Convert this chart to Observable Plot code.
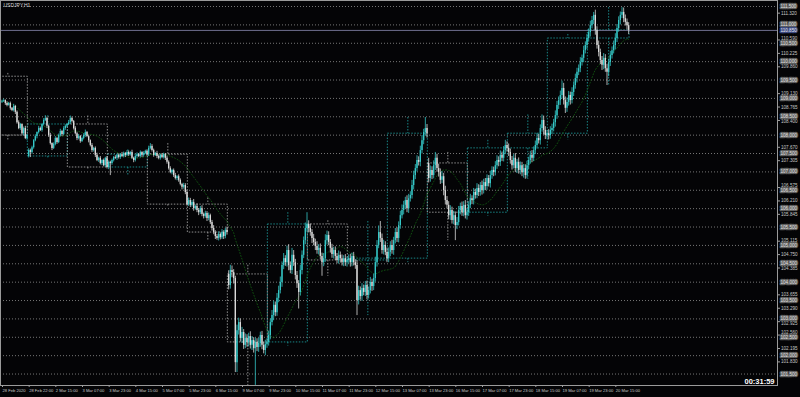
<!DOCTYPE html>
<html>
<head>
<meta charset="utf-8">
<script src="https://cdn.jsdelivr.net/npm/d3@7"></script>
<script src="https://cdn.jsdelivr.net/npm/@observablehq/plot@0.6"></script>
<style>
  html, body { margin: 0; padding: 0; background: #040406; }
  #chart { width: 800px; height: 397px; }
</style>
</head>
<body>
<div id="chart"></div>
<script>
// ---- DATA (USDJPY, H1) ----
const title = "USDJPY,H1";
const clock = "00:31:59";

// hourly closes, one row per trading day (first row: visible part of 28 Feb)
const closes = [
  108.92,108.94,108.86,108.81,108.86,108.73,108.67,108.78,108.62,108.34,108.18,108.29,108.04,108.18,107.91,107.99,107.58,107.53,
  107.66,107.85,107.96,108.07,108.18,108.13,108.29,108.40,108.45,108.24,107.99,107.77,107.64,107.75,107.91,107.80,107.99,108.10,108.02,108.18,108.24,108.29,108.34,108.45,108.37,
  108.18,108.04,107.91,107.96,107.83,107.91,107.99,108.07,107.96,107.85,107.72,107.58,107.64,107.45,107.31,107.37,107.23,107.31,107.17,107.37,107.12,107.26,107.23,
  107.31,107.39,107.37,107.45,107.39,107.47,107.42,107.50,107.45,107.53,107.47,107.53,107.37,107.31,107.42,107.47,107.42,107.53,107.45,107.50,107.56,107.47,107.64,107.69,
  107.58,107.45,107.50,107.42,107.37,107.45,107.39,107.47,107.37,107.26,107.09,106.98,107.04,106.90,106.82,106.87,106.77,106.66,106.58,106.63,106.44,106.11,106.22,
  106.09,106.17,106.00,106.06,105.95,105.89,106.00,105.84,105.79,105.87,105.73,105.81,105.62,105.46,105.35,105.24,105.19,105.30,105.21,105.35,105.24,105.41,105.35,
  103.91,104.32,104.26,104.10,101.81,102.68,102.90,102.47,102.63,102.28,102.47,102.36,102.52,102.28,102.41,102.19,102.36,102.22,102.33,102.55,102.28,102.14,102.30,102.36,
  102.55,102.90,103.09,103.37,103.17,103.56,103.77,103.99,104.45,104.64,104.53,104.86,104.45,104.32,104.73,104.53,104.18,103.96,103.72,104.32,104.73,105.13,105.46,105.57,
  105.46,105.35,105.19,105.08,104.97,104.86,104.92,104.70,104.53,104.64,105.13,105.27,105.08,104.92,104.75,104.86,104.70,104.59,104.73,104.64,104.53,104.64,104.53,104.59,
  104.64,104.53,104.70,104.53,104.45,103.50,103.77,103.61,103.83,103.72,103.91,103.64,103.77,103.99,103.88,104.10,104.53,105.00,105.35,105.19,104.86,105.00,104.81,104.64,
  104.81,105.00,104.86,105.13,105.35,105.19,105.54,105.81,105.95,106.09,106.22,106.00,106.27,106.36,106.63,106.90,107.09,107.31,107.26,107.58,107.85,108.07,108.18,108.04,
  106.82,107.04,106.90,107.17,107.37,107.09,106.98,106.77,106.87,106.49,106.22,106.09,105.81,105.95,105.68,105.81,105.54,105.62,105.95,106.06,105.89,106.09,105.81,105.89,
  106.09,106.27,106.22,106.44,106.36,106.55,106.44,106.63,106.49,106.71,106.60,106.82,106.68,106.90,107.04,106.98,107.17,107.31,107.26,107.45,107.37,107.58,107.72,107.64,
  107.53,107.31,107.17,107.37,107.09,107.26,107.04,107.17,106.98,107.09,106.90,107.17,107.31,107.45,107.37,107.58,107.72,107.91,107.85,108.18,108.40,108.13,107.99,108.04,
  107.99,108.13,108.18,108.34,108.53,108.81,108.94,109.08,109.27,108.94,108.73,108.89,109.08,108.94,109.16,109.35,109.54,109.71,109.81,109.98,110.09,110.30,110.44,110.63,
  110.79,110.98,111.12,111.26,110.85,110.44,110.25,110.03,109.90,110.09,109.81,109.71,109.98,110.17,110.30,110.44,110.63,110.90,111.12,111.26,111.34,111.17,111.07,110.98,110.85
];
// upper shadows (hundredths of a yen)
const upperWick = [
  3,4,2,5,3,4,2,6,3,4,5,3,2,4,6,3,5,4,
  4,3,5,2,6,4,3,5,8,4,3,6,2,4,5,3,4,6,3,5,4,3,6,7,4,
  3,5,4,6,3,4,5,7,3,4,2,5,3,4,6,3,5,2,4,3,5,4,3,
  4,3,5,2,4,3,6,4,3,5,4,2,6,3,4,5,3,4,2,5,3,4,6,8,
  5,4,3,6,4,3,5,4,3,6,4,5,3,4,6,3,5,4,3,6,5,4,7,
  6,5,8,4,7,5,6,8,4,6,5,7,4,6,8,5,6,7,4,8,5,6,9,
  10,14,12,8,6,15,12,10,14,8,12,10,9,13,11,8,12,10,14,9,11,8,12,10,
  12,10,14,11,9,13,12,15,10,14,8,12,16,10,19,13,9,11,8,14,12,10,15,32,
  10,12,8,11,9,13,10,12,9,14,16,12,10,8,11,9,10,8,12,9,10,8,11,9,
  10,12,9,11,8,14,12,10,13,9,11,12,10,14,9,12,15,13,18,30,12,14,10,12,
  12,10,14,9,11,13,10,12,15,11,9,13,12,10,14,12,11,13,10,12,14,9,30,11,
  14,12,10,13,16,11,12,10,14,9,12,11,10,13,9,12,10,14,11,9,12,10,13,11,
  10,12,8,11,9,13,10,8,12,9,11,10,8,12,10,9,11,13,10,12,9,11,14,10,
  12,9,11,10,13,8,12,10,9,11,10,12,9,11,13,10,12,14,11,10,15,12,10,9,
  11,10,12,9,13,11,10,12,20,14,10,12,11,9,13,10,12,11,10,13,9,12,10,11,
  10,12,11,8,14,10,12,9,11,13,10,12,9,11,10,12,13,11,10,9,13,12,10,9,8
];
// lower shadows (hundredths of a yen)
const lowerWick = [
  4,3,5,4,2,5,3,4,6,4,3,5,4,6,3,5,4,14,
  5,4,3,6,4,3,5,4,3,6,5,4,6,3,4,5,3,4,6,3,5,4,3,5,4,
  4,3,6,4,5,3,4,5,3,6,4,5,4,6,3,5,4,6,3,5,4,6,33,
  5,4,3,6,4,5,3,4,6,3,5,4,3,6,4,5,3,4,6,5,3,4,5,4,
  4,5,3,6,4,5,3,4,6,5,4,3,6,5,4,6,5,4,7,5,6,4,5,
  6,5,7,4,6,8,5,6,7,5,8,6,5,7,6,8,5,7,6,5,8,6,7,
  12,10,14,15,27,27,12,10,14,11,9,13,12,10,14,12,100,11,13,10,12,9,14,10,
  10,12,9,14,11,10,12,9,13,11,10,12,14,9,11,10,12,13,45,10,12,9,11,10,
  12,10,14,9,11,10,12,9,37,11,10,12,9,13,10,12,11,9,10,12,9,11,10,12,
  10,12,11,9,10,41,12,10,13,9,11,12,10,9,13,11,10,12,9,11,10,12,9,11,
  11,12,10,13,9,11,12,10,9,12,10,11,13,9,10,12,11,9,10,12,9,11,10,12,
  12,10,11,9,13,10,12,11,9,14,12,10,11,13,10,12,41,11,9,12,10,11,9,12,
  10,9,11,12,10,9,11,10,12,9,11,10,9,12,10,11,9,10,12,11,9,10,11,10,
  11,10,12,9,11,13,10,12,11,15,10,9,11,10,12,9,11,10,9,12,10,13,11,10,
  12,10,11,9,12,10,11,13,10,12,14,11,10,12,9,11,10,12,9,11,10,12,9,11,
  10,12,9,11,13,10,12,11,14,12,10,36,12,11,10,9,12,11,10,12,9,11,10,12,11
];
const firstOpen = 108.90;
// weekly / gap opens (bar index -> open)
const gapOpenBars = [16, 136, 256];
const gapOpenPrices = [107.42, 104.21, 107.23];
// daily (MTF) candle boxes: first bar of each day; first day began before the visible range
const dayStarts = [-8,16,40,64,88,112,136,160,184,208,232,256,280,304,328,352];
const firstDayOpen = 109.59, firstDayHigh = 109.68;

// axes
const timeTickBars = [0,16,32,48,64,80,96,112,128,144,160,176,192,208,224,240,256,272,288,304,320,336,352,368];
const timeLabels = ["28 Feb 2020","28 Feb 22:00","2 Mar 15:00","3 Mar 07:00","3 Mar 23:00","4 Mar 15:00","5 Mar 07:00","5 Mar 23:00","6 Mar 15:00","9 Mar 07:00","9 Mar 23:00","10 Mar 15:00","11 Mar 07:00","11 Mar 23:00","12 Mar 15:00","13 Mar 07:00","13 Mar 23:00","16 Mar 15:00","17 Mar 07:00","17 Mar 23:00","18 Mar 15:00","19 Mar 07:00","19 Mar 23:00","20 Mar 15:00"];
// price scale labels that are visible (the others are hidden under the level labels)
const priceTicks = [101.830,102.195,102.560,102.925,103.290,103.655,104.385,104.750,105.115,105.845,106.210,106.575,107.305,107.670,108.400,108.765,109.130,109.860,110.225,110.590,111.320];
const levelLines = [101.5,102,102.5,103,103.5,104,104.5,105,105.5,106,106.5,107,107.5,108,108.5,109,109.5,110,110.5,111,111.5];

// ---- BUILD ----
const N = closes.length;
const gapOpen = new Map(gapOpenBars.map((b, k) => [b, gapOpenPrices[k]]));
const bars = closes.map((c, i) => {
  const o = gapOpen.has(i) ? gapOpen.get(i) : (i === 0 ? firstOpen : closes[i - 1]);
  return {i, o, c, hi: Math.max(o, c) + upperWick[i] / 100, lo: Math.min(o, c) - lowerWick[i] / 100, up: c > o};
});
const days = dayStarts.map((s, k) => {
  const e = k + 1 < dayStarts.length ? dayStarts[k + 1] : N;
  const seg = bars.slice(Math.max(s, 0), e);
  const open = k === 0 ? firstDayOpen : seg[0].o;
  const close = seg[seg.length - 1].c;
  let high = d3.max(seg, d => d.hi), low = d3.min(seg, d => d.lo);
  if (k === 0) high = Math.max(high, firstDayHigh);
  return {x1: s - 0.5, x2: e - 0.5, mid: (s + e - 1) / 2, open, close, high, low,
          top: Math.max(open, close), bottom: Math.min(open, close), up: close >= open};
});
const last = closes[N - 1];

const yDomain = [101.188, 111.664];
const plotH = 385;                       // height of the price panel in px
const pxPerUnit = plotH / (yDomain[1] - yDomain[0]);
// nudge price-scale labels away from the level labels so the texts do not collide
const minGap = 4.9 / pxPerUnit;
const tickLabelPos = priceTicks.map(t => {
  let pos = t;
  for (const l of levelLines.concat([last])) {
    const d = pos - l;
    if (Math.abs(d) < minGap) pos = l + Math.sign(d) * minGap;
  }
  return {t, pos};
});

const bull = "#35c8c8", bear = "#dadada";
const font = "Liberation Sans, Arial, sans-serif";

const chart = Plot.plot({
  width: 800, height: 397,
  marginTop: 0, marginBottom: 397 - plotH, marginLeft: 0, marginRight: 23,
  x: {domain: [-0.9, 465.3], axis: null},
  y: {domain: yDomain, axis: null},
  style: {background: "#040406", color: "#c8c8c8", fontFamily: font},
  marks: [
    Plot.ruleY(levelLines, {stroke: "#767676", strokeDasharray: "1,2", strokeWidth: 1}),
    // daily boxes
    Plot.rect(days.filter(d => d.up), {x1: "x1", x2: "x2", y1: "open", y2: "close", fill: "none", stroke: "#1c9494", strokeDasharray: "1.5,1.5", strokeWidth: 0.9, clip: true}),
    Plot.rect(days.filter(d => !d.up), {x1: "x1", x2: "x2", y1: "open", y2: "close", fill: "none", stroke: "#a0a0a0", strokeDasharray: "1.5,1.5", strokeWidth: 0.9, clip: true}),
    Plot.ruleX(days, {x: "mid", y1: "high", y2: "top", stroke: d => d.up ? "#1c9494" : "#a0a0a0", strokeDasharray: "1.5,1.5", strokeWidth: 0.9, clip: true}),
    Plot.ruleX(days, {x: "mid", y1: "bottom", y2: "low", stroke: d => d.up ? "#1c9494" : "#a0a0a0", strokeDasharray: "1.5,1.5", strokeWidth: 0.9, clip: true}),
    // moving average
    Plot.lineY(bars, Plot.windowY({k: 24, anchor: "end", reduce: "mean"}, {x: "i", y: "c", stroke: "#0f4d0f", strokeDasharray: "1,2", strokeWidth: 1})),
    // bid line
    Plot.ruleY([last], {stroke: "#6e6e8e", strokeWidth: 1}),
    // candles
    Plot.ruleX(bars.filter(d => d.up), {x: "i", y1: "lo", y2: "hi", stroke: bull, strokeWidth: 0.8}),
    Plot.ruleX(bars.filter(d => !d.up), {x: "i", y1: "lo", y2: "hi", stroke: bear, strokeWidth: 0.8}),
    Plot.ruleX(bars.filter(d => d.up), {x: "i", y1: "o", y2: "c", stroke: bull, strokeWidth: 1.35}),
    Plot.ruleX(bars.filter(d => !d.up), {x: "i", y1: "o", y2: "c", stroke: bear, strokeWidth: 1.35}),
    Plot.frame({stroke: "#9a9a9a"}),
    // time axis
    Plot.axisX(timeTickBars, {anchor: "bottom", tickSize: 2, tickPadding: 2, tickFormat: (d, i) => timeLabels[i],
      textAnchor: "start", dx: 0.5, fontSize: 4.1, stroke: "#a0a0a0", fill: "#c8c8c8"}),
    // price axis: tick marks at the true values, labels nudged where crowded
    Plot.axisY(priceTicks, {anchor: "right", tickSize: 2, tickFormat: () => "", stroke: "#a0a0a0"}),
    Plot.text(tickLabelPos, {y: "pos", text: d => d.t.toFixed(3), frameAnchor: "right", dx: 3.5, textAnchor: "start",
      fontSize: 4.6, fill: "#c8c8c8"}),
    Plot.text(levelLines, {y: d => d, text: d => d.toFixed(3), frameAnchor: "right", dx: 3, textAnchor: "start",
      fontSize: 4.6, fill: "#e4e4e4", stroke: "#5e5e5e", strokeWidth: 2.6, strokeLinejoin: "round", paintOrder: "stroke"}),
    Plot.text([last], {y: d => d, text: d => d.toFixed(3), frameAnchor: "right", dx: 3, textAnchor: "start",
      fontSize: 4.6, fill: "#e8e8f4", stroke: "#3c4a80", strokeWidth: 2.6, strokeLinejoin: "round", paintOrder: "stroke"}),
    Plot.text([title], {frameAnchor: "top-left", dx: 3, dy: 3, textAnchor: "start", lineAnchor: "top", fontSize: 5, fill: "#d8d8d8"}),
    Plot.text([clock], {frameAnchor: "bottom-right", dx: -3, dy: -4, textAnchor: "end", lineAnchor: "middle",
      fontSize: 7.5, fontWeight: "bold", fill: "#ffffff"})
  ]
});
document.getElementById("chart").appendChild(chart);
</script>
</body>
</html>
